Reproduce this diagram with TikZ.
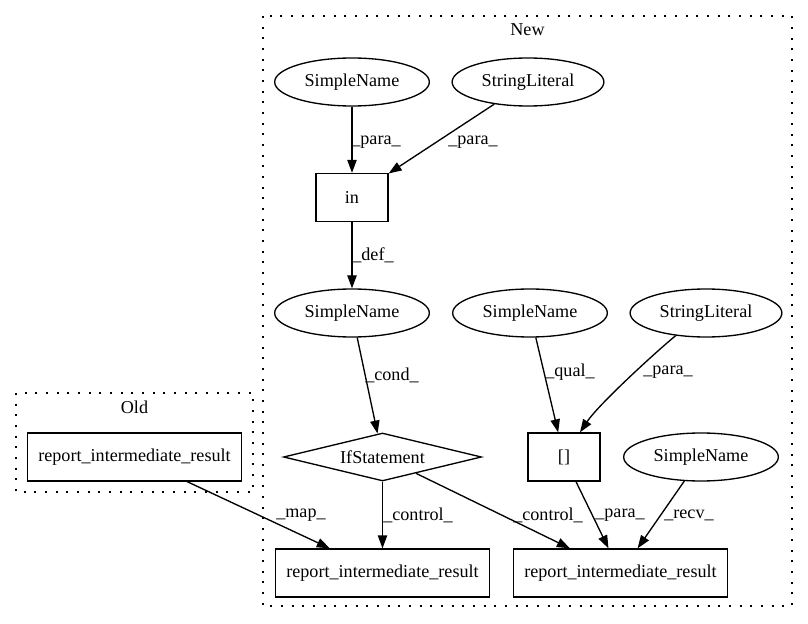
\documentclass[tikz,border=0pt]{standalone}
\usepackage{fontspec}
\setmainfont{Liberation Serif}
\usetikzlibrary{shapes.geometric,arrows.meta}
\tikzset{
  ell/.style={draw, ellipse, minimum height=36pt, inner xsep=5.5pt},
  box/.style={draw, rectangle, minimum width=54pt, minimum height=36pt, inner xsep=8pt},
  cond/.style={draw, diamond, aspect=4.125, minimum width=148.5pt, minimum height=36pt, inner sep=1pt},
  edge/.style={-{Triangle[length=9.75pt, width=7pt]}},
  clus/.style={dash pattern=on 1.5pt off 6.5pt}
}
\begin{document}
\begin{tikzpicture}[x=0.75pt, y=-0.75pt, line width=1pt, font=\fontsize{13.6}{16}\selectfont]
  \useasboundingbox (0, 0) rectangle (808, 624);
  \draw[clus] (263, 16) rectangle (792, 606);
  \draw[clus] (16, 393) rectangle (253, 492);
  \draw (527.5, 30) node (lnew) {New};
  \draw (134.5, 407) node (lold) {Old};
  \draw (352, 82) node[ell] (sn1) {SimpleName};
  \draw (528, 82) node[ell] (sl1) {StringLiteral};
  \draw (352, 197.5) node[box] (in) {in};
  \draw (352, 313) node[ell] (sn2) {SimpleName};
  \draw (530, 313) node[ell] (sn3) {SimpleName};
  \draw (706, 313) node[ell] (sl2) {StringLiteral};
  \draw (382.5, 457) node[cond] (ifst) {IfStatement};
  \draw (564, 457) node[box] (br) {[]};
  \draw (701, 457) node[ell] (sn4) {SimpleName};
  \draw (134.5, 457) node[box] (old) {report\_intermediate\_result};
  \draw (382.5, 573) node[box] (m1) {report\_intermediate\_result};
  \draw (620.5, 573) node[box] (r1) {report\_intermediate\_result};
  \draw[edge] (sn1) -- (in);
  \draw[edge] (sl1) -- (in);
  \draw[edge] (in) -- (sn2);
  \draw[edge] (sn2) -- (ifst);
  \draw[edge] (sn3) -- (br);
  \draw[edge] (sl2) .. controls +(-40, 30) and +(20, -30) .. ([xshift=12pt]br.north);
  \draw[edge] (old) -- (m1);
  \draw[edge] (ifst) -- (m1);
  \draw[edge] (ifst) -- (r1);
  \draw[edge] (br) -- (r1);
  \draw[edge] (sn4) -- (r1);
  \draw (376, 142) node (p1) {\_para\_};
  \draw (473, 142) node (p2) {\_para\_};
  \draw (373, 255) node (d1) {\_def\_};
  \draw (392, 375) node (c1) {\_cond\_};
  \draw (570, 372) node (q1) {\_qual\_};
  \draw (668, 372) node (p3) {\_para\_};
  \draw (301, 515) node (mp) {\_map\_};
  \draw (418, 515) node (ct1) {\_control\_};
  \draw (548, 515) node (ct2) {\_control\_};
  \draw (620, 515) node (p4) {\_para\_};
  \draw (689, 515) node (rv) {\_recv\_};
\end{tikzpicture}
\end{document}
